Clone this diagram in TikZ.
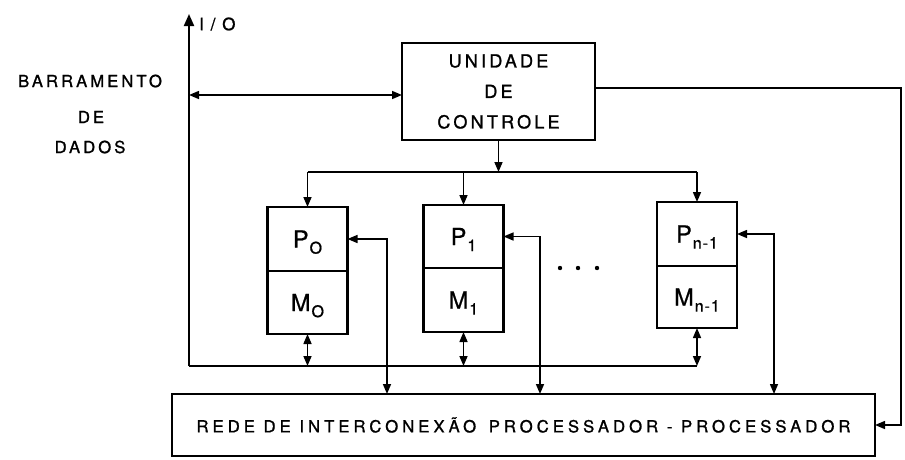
\documentclass[tikz,border=0pt]{standalone}
\usepackage{fontspec}
\setmainfont{TeX Gyre Heros}
\newfontfamily\lbl[LetterSpace=18,FakeBold=1.2]{TeX Gyre Heros}
\newfontfamily\pmfont[LetterSpace=6,FakeBold=0.8]{TeX Gyre Heros}
\usetikzlibrary{arrows.meta}
\newcommand{\pmsub}[1]{\smash{\raisebox{-6pt}{\hspace{1pt}\fontsize{16}{16}\selectfont #1}}}
\begin{document}
\begin{tikzpicture}[x=1pt,y=-1pt,
  box/.style={draw, line width=2.2pt, inner sep=0pt, outer sep=0pt},
  conn/.style={line width=1.5pt},
  tip/.style={-{Triangle[length=10pt,width=8pt]}},
  both/.style={{Triangle[length=10pt,width=8pt]}-{Triangle[length=10pt,width=8pt]}},
  lab/.style={font=\lbl\fontsize{16.7}{18}\selectfont, inner sep=0pt},
  pm/.style={box, minimum width=80pt, font=\pmfont\fontsize{23.5}{24}\selectfont},
  ]
\useasboundingbox (0,0) rectangle (905,459);

% side labels
\node[lab] (bar) at (90,81) {BARRAMENTO};
\node[lab] (de) at (91,117) {DE};
\node[lab] (dad) at (90,147) {DADOS};
\node[lab, anchor=west, font=\lbl\fontsize{17}{18}\selectfont\addfontfeature{LetterSpace=40}] (iot) at (199,24) {I/O};

% control unit
\node[box, minimum width=193pt, minimum height=97pt, align=center,
      font=\lbl\fontsize{18}{30.5}\selectfont] (cu) at (498.5,91.5)
      {UNIDADE\\DE\\CONTROLE};

% processor / memory boxes
\node[pm, minimum height=64pt] (p0) at (307.5,239) {P\pmsub{O}};
\node[pm, minimum height=63pt] (m0) at (307.5,302.5) {M\pmsub{O}};
\node[pm, minimum height=63pt] (p1) at (463.5,236.5) {P\pmsub{1}};
\node[pm, minimum height=64pt] (m1) at (463.5,300) {M\pmsub{1}};
\node[pm, minimum height=64pt] (pn) at (697,234) {P\pmsub{n-1}};
\node[pm, minimum height=62pt] (mn) at (697,297) {M\pmsub{n-1}};

% dots
\fill (560,268) circle (2.2);
\fill (578,268) circle (2.2);
\fill (597,268) circle (2.2);

% interconnection network
\node[box, minimum width=703pt, minimum height=62pt,
      font=\lbl\fontsize{16.7}{18}\selectfont\addfontfeature{LetterSpace=24}] (net) at (523.5,425)
      {REDE DE INTERCONEX\~AO\hspace{4pt} PROCESSADOR - PROCESSADOR};

% coordinates
\coordinate (io) at (189,14);
\coordinate (busL) at (189,366);
\coordinate (dj) at (189,95);
\coordinate (cj) at (500,172);
\coordinate (rc) at (901,88);
\coordinate (c0) at (387,0);
\coordinate (c1) at (540,0);
\coordinate (cn) at (774,0);

% data bus
\draw[line width=2pt, -{Triangle[length=12pt,width=10pt]}] (busL) -- (io);
\draw[conn] (busL) -- (busL -| mn.south);
\draw[conn, both] (dj) -- (dj -| cu.west);

% control distribution
\draw[conn, tip] (cu.south) -- (cu.south |- cj);
\draw[conn] (p0.north |- cj) -- (pn.north |- cj);
\draw[conn, tip] (p0.north |- cj) -- (p0.north);
\draw[conn, tip] (p1.north |- cj) -- (p1.north);
\draw[conn, tip] (pn.north |- cj) -- (pn.north);

% control to network
\draw[conn, tip] (cu.east |- rc) -- (rc) |- (net.east);

% memory to bus
\draw[conn, both] (m0.south) -- (m0.south |- busL);
\draw[conn, both] (m1.south) -- (m1.south |- busL);
\draw[conn, both] (mn.south) -- (mn.south |- busL);

% processors to network
\draw[conn, both] (p0.east) -| (c0 |- net.north);
\draw[conn, both] (p1.east) -| (c1 |- net.north);
\draw[conn, both] (pn.east) -| (cn |- net.north);
\end{tikzpicture}
\end{document}
